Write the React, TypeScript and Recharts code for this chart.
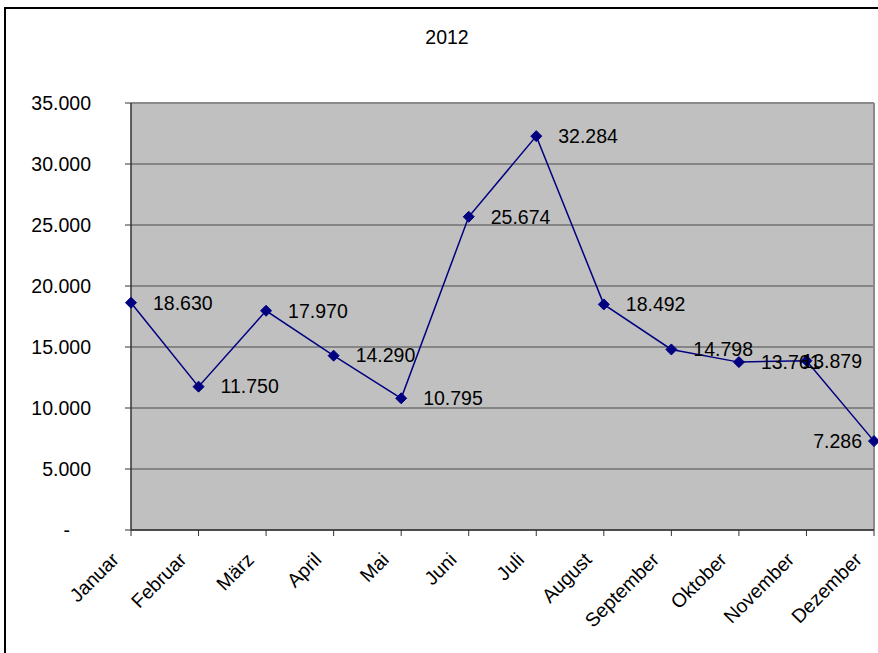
import React from 'react'
import {
  LineChart,
  Line,
  XAxis,
  YAxis,
  CartesianGrid,
  ReferenceLine,
  LabelList,
} from 'recharts'

const months = [
  'Januar',
  'Februar',
  'März',
  'April',
  'Mai',
  'Juni',
  'Juli',
  'August',
  'September',
  'Oktober',
  'November',
  'Dezember',
]

const values2012 = [18630, 11750, 17970, 14290, 10795, 25674, 32284, 18492, 14798, 13761, 13879, 7286]

const yTicks = [0, 5000, 10000, 15000, 20000, 25000, 30000, 35000]

const FONT = '"Liberation Sans", Arial, sans-serif'
const FS = 19.5

// German thousands separator, Excel style
const fmt = (v: number) => String(v).replace(/\B(?=(\d{3})+(?!\d))/g, '.')

const data = months.map((m, i) => ({ month: m, value: values2012[i] }))

const YTick = (props: any) => {
  const { x, y, payload } = props
  const v = payload.value
  return (
    <text
      x={v === 0 ? x - 21 : x}
      y={y}
      dy="0.35em"
      textAnchor="end"
      fontFamily={FONT}
      fontSize={FS}
      fill="#000"
    >
      {v === 0 ? '-' : fmt(v)}
    </text>
  )
}

const XTick = (props: any) => {
  const { x, y, payload } = props
  const tx = x - 11
  const ty = y + 25
  return (
    <text
      x={tx}
      y={ty}
      textAnchor="end"
      transform={`rotate(-45, ${tx}, ${ty})`}
      fontFamily={FONT}
      fontSize={FS}
      fill="#000"
    >
      {payload.value}
    </text>
  )
}

const Diamond = (props: any) => {
  const { cx, cy } = props
  if (cx == null || cy == null) return null
  const r = 5.5
  return (
    <polygon
      points={`${cx},${cy - r} ${cx + r},${cy} ${cx},${cy + r} ${cx - r},${cy}`}
      fill="#000080"
      stroke="#000080"
    />
  )
}

// labels sit right of the point; near the right edge Excel pulls them back inside
const ValueLabel = (props: any) => {
  const { x, y, value } = props
  const s = fmt(value)
  const w = s.length * 0.556 * FS - 0.278 * FS
  const start = x + 22
  const clamp = start + w > 866
  return (
    <text
      x={clamp ? 862 : start}
      y={y}
      dy="0.35em"
      textAnchor={clamp ? 'end' : 'start'}
      fontFamily={FONT}
      fontSize={FS}
      fill="#000"
    >
      {s}
    </text>
  )
}

export default function App() {
  return (
    <div
      style={{
        position: 'absolute',
        left: 0,
        top: 0,
        width: 878,
        height: 653,
        overflow: 'hidden',
        background: '#fff',
      }}
    >
      <div
        style={{
          position: 'absolute',
          left: 4,
          top: 7,
          width: 900,
          height: 700,
          border: '2px solid #000',
        }}
      />
      <div
        style={{
          position: 'absolute',
          left: 0,
          top: 26,
          width: 894,
          textAlign: 'center',
          fontFamily: FONT,
          fontSize: FS,
          color: '#000',
        }}
      >
        2012
      </div>
      <div style={{ position: 'absolute', left: 0, top: 0 }}>
        <LineChart
          width={878}
          height={653}
          data={data}
          margin={{ top: 103, right: 4, bottom: 93, left: 0 }}
        >
          <CartesianGrid vertical={false} stroke="#4a4a4a" fill="#C0C0C0" />
          <XAxis
            dataKey="month"
            height={30}
            interval={0}
            tickSize={6}
            tickMargin={0}
            tick={<XTick />}
            axisLine={{ stroke: '#333', strokeWidth: 1.5 }}
            tickLine={{ stroke: '#333' }}
          />
          <YAxis
            width={131}
            domain={[0, 35000]}
            ticks={yTicks}
            interval={0}
            tickSize={6}
            tickMargin={34}
            tick={<YTick />}
            axisLine={{ stroke: '#333', strokeWidth: 1.5 }}
            tickLine={{ stroke: '#333' }}
          />
          <ReferenceLine y={35000} stroke="#8a8a8a" strokeWidth={2} />
          <ReferenceLine x="Dezember" stroke="#8a8a8a" strokeWidth={2} />
          <Line
            type="linear"
            dataKey="value"
            stroke="#000080"
            strokeWidth={1.5}
            dot={<Diamond />}
            activeDot={false}
            isAnimationActive={false}
          >
            <LabelList dataKey="value" content={<ValueLabel />} />
          </Line>
        </LineChart>
      </div>
    </div>
  )
}
